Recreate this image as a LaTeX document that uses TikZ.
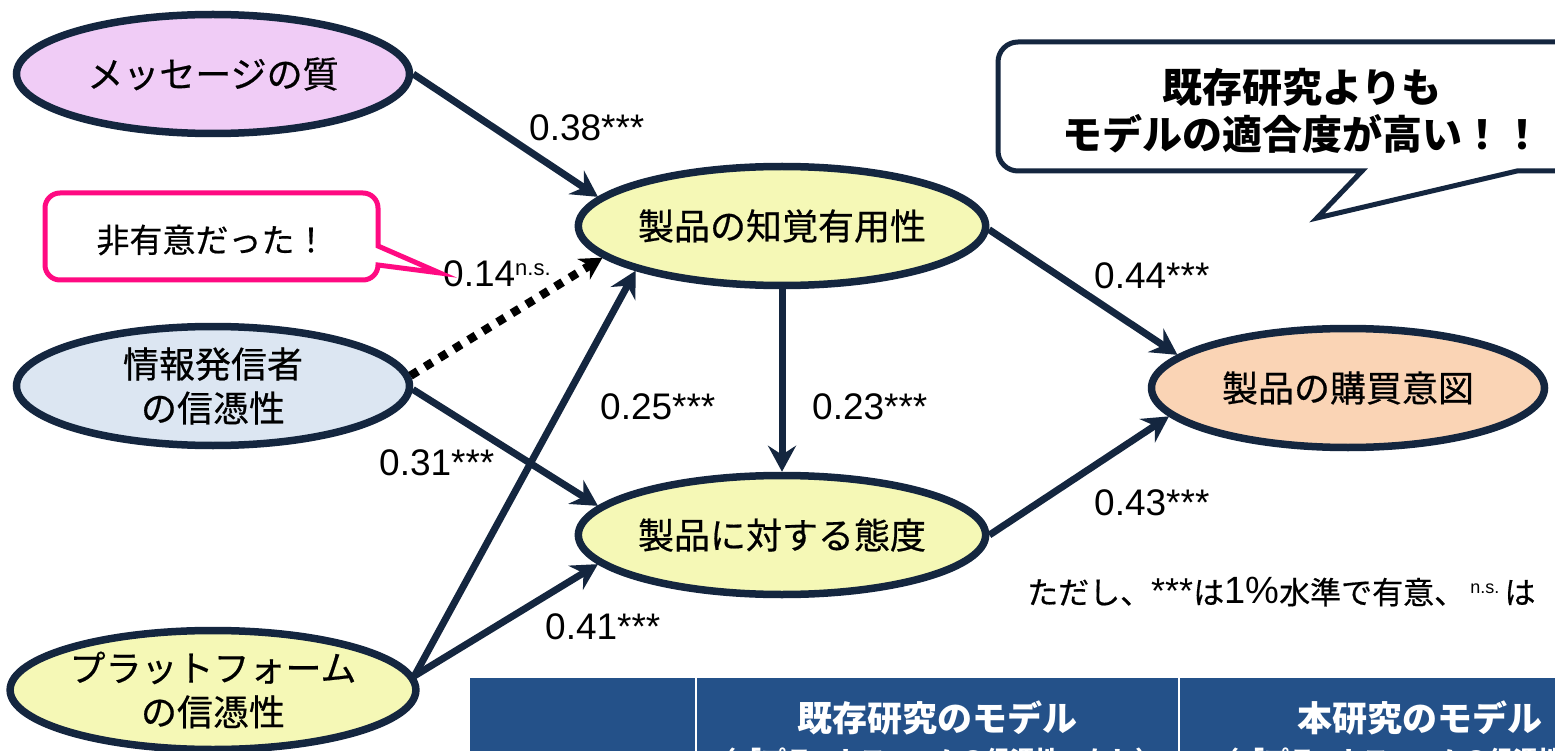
\documentclass[tikz,border=0pt]{standalone}
\usepackage{fontspec}
\usetikzlibrary{shapes.geometric,arrows.meta}
\setmainfont{Liberation Sans}
\newfontfamily\jp[FakeBold=0.5]{Noto Sans CJK JP}
\newfontfamily\jpb{Noto Sans CJK JP}
\newfontfamily\lat{Liberation Sans}
\definecolor{navy}{HTML}{14263F}
\definecolor{lav}{HTML}{F0CCF6}
\definecolor{ylw}{HTML}{F5F8B6}
\definecolor{lblue}{HTML}{DCE6F2}
\definecolor{peach}{HTML}{FAD4B5}
\definecolor{pinkc}{HTML}{FF0A82}
\definecolor{tblue}{HTML}{245189}
\tikzset{
  ell/.style={ellipse, draw=navy, line width=7.5pt, minimum width=393pt, minimum height=119pt,
    inner sep=0pt, align=center, font=\jp\fontsize{36}{44}\selectfont},
  arr/.style={draw=navy, line width=7pt, -{Stealth[length=26pt,width=28pt,inset=9pt]}},
  dotarr/.style={draw=black, line width=8.5pt, dash pattern=on 8.5pt off 8.5pt,
    -{Stealth[length=22pt,width=24pt,inset=7pt]}},
  num/.style={anchor=west, inner sep=0pt, font=\fontsize{37}{40}\selectfont},
  hdr/.style={text=white, inner sep=0pt, font=\jpb\bfseries\fontsize{35}{40}\selectfont},
  sub/.style={text=white, inner sep=0pt, font=\jpb\bfseries\fontsize{25}{30}\selectfont}
}
\begin{document}
\begin{tikzpicture}[x=1pt,y=-1pt]
\useasboundingbox (0,0) rectangle (1555,751);
\clip (0,0) rectangle (1555,751);
\fill[white] (0,0) rectangle (1555,751);

% table
\fill[tblue] (470,678) rectangle (1570,770);
\draw[white, line width=2pt] (696,678) -- (696,770);
\draw[white, line width=2pt] (1179,678) -- (1179,770);
\node[hdr] (h1) at (937,718) {既存研究のモデル};
\node[hdr] (h2) at (1420,718) {本研究のモデル};
\node[sub] (s1) at (936,760) {（「プラットフォームの信憑性」なし）};
\node[sub, anchor=west] (s2) at (1214,760) {（「プラットフォームの信憑性};

% ellipses
\node[ell, fill=lav] (A) at (213,74) {メッセージの質};
\node[ell, fill=ylw] (PU) at (782,226) {製品の知覚有用性};
\node[ell, fill=lblue] (SC) at (213,386) {情報発信者\\の信憑性};
\node[ell, fill=ylw] (AT) at (782,535) {製品に対する態度};
\node[ell, fill=ylw] (PF) at (213,690) {プラットフォーム\\の信憑性};
\node[ell, fill=peach] (PI) at (1348,388) {製品の購買意図};

% connectors
\draw[arr] (A.east) -- (PU.171);
\draw[dotarr] (SC.3) -- (PU.190);
\draw[arr] (SC.-1) -- (AT.171);
\draw[arr] (PF.4) -- (PU.197);
\draw[arr] (PF.4) -- (AT.189);
\draw[arr] (PU.south) -- (AT.north);
\draw[arr] (PU.-1) -- (PI.169);
\draw[arr] (AT.east) -- (PI.189);

% coefficient labels
\node[num] (l38) at (529,128) {0.38***};
\node[num] (l14) at (443,274) {0.14\raisebox{11pt}{\fontsize{22}{24}\selectfont n.s.}};
\node[num] (l25) at (600,407) {0.25***};
\node[num] (l23) at (812,407) {0.23***};
\node[num] (l31) at (379,463) {0.31***};
\node[num] (l41) at (545,627) {0.41***};
\node[num] (l44) at (1094,276) {0.44***};
\node[num] (l43) at (1094,503) {0.43***};

% pink callout
\draw[pinkc, line width=5pt, fill=white] (378,246) -- (440,273) -- (378,265)
  arc[start angle=0, end angle=90, radius=15] -- (60,280)
  arc[start angle=90, end angle=180, radius=15] -- (45,208)
  arc[start angle=180, end angle=270, radius=15] -- (363,193)
  arc[start angle=270, end angle=360, radius=15] -- cycle;
\node[inner sep=0pt, font=\jp\fontsize{33}{40}\selectfont] (ns) at (212,240) {非有意だった！};

% navy callout
\draw[navy, line width=5pt, fill=white] (1362,171) -- (1317,218) -- (1517,171) -- (1620,171)
  -- (1620,42) -- (1018,42)
  arc[start angle=270, end angle=180, radius=20] -- (998,151)
  arc[start angle=180, end angle=90, radius=20] -- cycle;
\node[inner sep=0pt, align=center, font=\jpb\bfseries\fontsize{40}{47}\selectfont] (msg) at (1302,111)
  {既存研究よりも\\モデルの適合度が高い！！};

% footnote
\node[anchor=west, inner sep=0pt, font=\jp\fontsize{31}{36}\selectfont] (note) at (1027,592)
  {ただし、{\lat\fontsize{36}{36}\selectfont ***}は{\lat\fontsize{38}{38}\selectfont 1\%}水準で有意、\,\raisebox{10pt}{\lat\fontsize{18}{18}\selectfont n.s.}\,は};
\end{tikzpicture}
\end{document}
